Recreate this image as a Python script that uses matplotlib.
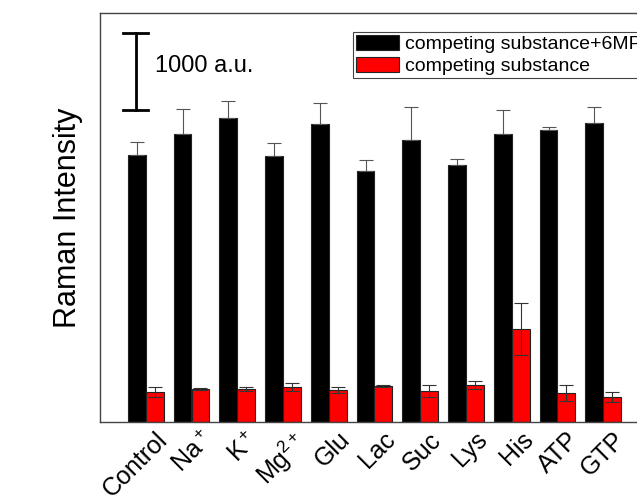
import numpy as np
import matplotlib.pyplot as plt
import matplotlib.transforms as mtransforms

plt.rcParams['font.family'] = ['Liberation Sans', 'DejaVu Sans']
plt.rcParams['mathtext.fontset'] = 'custom'
plt.rcParams['mathtext.rm'] = 'Liberation Sans'
plt.rcParams['mathtext.it'] = 'Liberation Sans'

categories = ['Control', r'Na$^+$', r'K$^+$', r'Mg$^{2+}$', 'Glu', 'Lac',
              'Suc', 'Lys', 'His', 'ATP', 'GTP']

# intensity with 6MP (black) and without (red), a.u.
with_6mp = [3470, 3740, 3950, 3455, 3870, 3260, 3660, 3340, 3740, 3790, 3885]
with_6mp_err = [170, 325, 220, 170, 275, 145, 430, 80, 310, 40, 210]
alone = [390, 430, 430, 455, 415, 465, 400, 480, 1205, 375, 325]
alone_err = [60, 15, 25, 50, 40, 12, 80, 50, 340, 100, 65]

scale_bar = 1000

fig = plt.figure(figsize=(6.37, 4.95), dpi=100)
ax = fig.add_axes([100 / 637, 73 / 495, 549 / 637, 409 / 495])

x = np.arange(len(categories))
w = 0.39
# black bars only show the upper half of the error bar
ax.bar(x - w / 2, with_6mp, w, color='black', edgecolor='#222222', linewidth=0.8,
       yerr=[np.zeros(len(x)), with_6mp_err],
       error_kw=dict(ecolor='#555555', elinewidth=0.8, capsize=5, capthick=0.8),
       label='competing substance+6MP')
ax.bar(x + w / 2, alone, w, color='#ff0000', edgecolor='#222222', linewidth=0.8,
       yerr=alone_err, error_kw=dict(ecolor='#333333', elinewidth=0.8, capsize=5, capthick=0.8),
       label='competing substance')

# scale bar
sb_x, sb_y0 = -0.22, 4050
ax.plot([sb_x, sb_x], [sb_y0, sb_y0 + scale_bar], color='black', lw=2)
ax.plot([sb_x - 0.28, sb_x + 0.28], [sb_y0, sb_y0], color='black', lw=2)
ax.plot([sb_x - 0.28, sb_x + 0.28], [sb_y0 + scale_bar] * 2, color='black', lw=2)
ax.text(sb_x + 0.42, sb_y0 + scale_bar / 2 + 70, '1000 a.u.', fontsize=17, va='center', ha='left')

ax.set_xlim(-1, 11)
ax.set_ylim(0, 5310)
ax.set_xticks(x)
ax.set_xticklabels(categories, rotation=45, ha='right', rotation_mode='anchor', fontsize=18)
ax.tick_params(axis='x', length=0, pad=4)
shift = mtransforms.ScaledTranslation(0.09, 0, fig.dpi_scale_trans)
for lbl in ax.get_xticklabels():
    lbl.set_transform(lbl.get_transform() + shift)
ax.set_yticks([])
ax.set_ylabel('Raman Intensity', fontsize=22, labelpad=12)
for s in ax.spines.values():
    s.set_color('#444444')
    s.set_linewidth(1.0)

leg = fig.legend(loc='upper left', bbox_to_anchor=(353 / 637, 1 - 32 / 495), fontsize=14,
                 frameon=True, fancybox=False, edgecolor='#444444', framealpha=1,
                 borderpad=0.15, labelspacing=0.2, handlelength=2.2, handleheight=0.8,
                 handletextpad=0.3, borderaxespad=0)
leg.get_frame().set_linewidth(0.8)

fig.savefig('out.png', dpi=100)
